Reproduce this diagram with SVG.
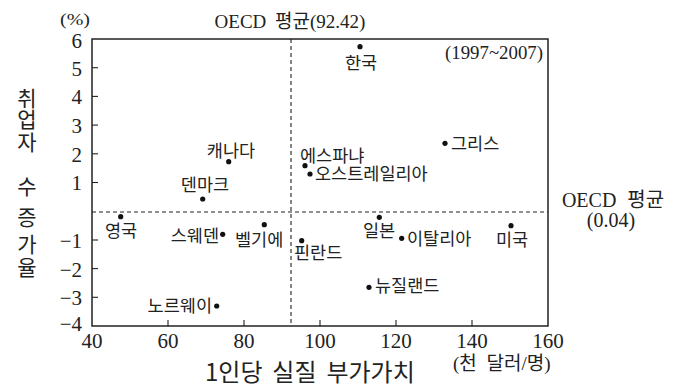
<svg xmlns="http://www.w3.org/2000/svg" width="674" height="387" viewBox="0 0 674 387">
<style>
.serif{font-family:"Liberation Serif","Noto Sans CJK KR",serif;fill:#222;}
.ko{font-family:"Noto Sans CJK KR","Noto Sans",sans-serif;fill:#222;}
.tick{font-size:21px;}
.lbl{font-size:17.5px;}
.dot{fill:#111;}
.dash{stroke:#222;stroke-width:1.1;stroke-dasharray:4 3;fill:none;}
.ax{stroke:#222;stroke-width:1.5;fill:none;}
.tk{stroke:#222;stroke-width:1.1;}
</style>
<rect width="674" height="387" fill="#fff"/>
<g id="axes">
<rect class="ax" x="92" y="39" width="456" height="287"/>
<g class="tk">
<line x1="92" y1="67.7" x2="98" y2="67.7"/>
<line x1="92" y1="96.4" x2="98" y2="96.4"/>
<line x1="92" y1="125.1" x2="98" y2="125.1"/>
<line x1="92" y1="153.8" x2="98" y2="153.8"/>
<line x1="92" y1="182.5" x2="98" y2="182.5"/>
<line x1="92" y1="240" x2="98" y2="240"/>
<line x1="92" y1="268.6" x2="98" y2="268.6"/>
<line x1="92" y1="297.3" x2="98" y2="297.3"/>
<line x1="168" y1="326" x2="168" y2="320"/>
<line x1="244" y1="326" x2="244" y2="320"/>
<line x1="320" y1="326" x2="320" y2="320"/>
<line x1="396" y1="326" x2="396" y2="320"/>
<line x1="472" y1="326" x2="472" y2="320"/>
</g>
<g class="serif tick" text-anchor="end">
<text x="82" y="48">6</text>
<text x="82" y="76">5</text>
<text x="82" y="104">4</text>
<text x="82" y="133">3</text>
<text x="82" y="162">2</text>
<text x="82" y="190">1</text>
<text x="82" y="248">−1</text>
<text x="82" y="277">−2</text>
<text x="82" y="305">−3</text>
<text x="82" y="331">−4</text>
</g>
<g class="serif tick" text-anchor="middle">
<text x="92" y="348">40</text>
<text x="168" y="348">60</text>
<text x="244" y="348">80</text>
<text x="320" y="348">100</text>
<text x="396" y="348">120</text>
<text x="472" y="348">140</text>
<text x="548" y="348">160</text>
</g>
<text class="serif" x="60" y="25" font-size="16" textLength="30" lengthAdjust="spacingAndGlyphs">(%)</text>
<text class="serif" x="445" y="59" font-size="18" textLength="98" lengthAdjust="spacingAndGlyphs">(1997~2007)</text>
<text class="serif" x="453" y="370" font-size="19" word-spacing="5">(천 달러/명)</text>
<text class="ko" x="205" y="381" font-size="24" word-spacing="4.5">1인당 실질 부가가치</text>
<text class="ko" font-size="21" x="27" writing-mode="vertical-rl"><tspan y="88">취</tspan><tspan y="109">업</tspan><tspan y="132">자</tspan><tspan y="176">수</tspan><tspan y="207">증</tspan><tspan y="234">가</tspan><tspan y="257">율</tspan></text>
</g>
<g id="connectors">
<line class="dash" x1="291" y1="39" x2="291" y2="326"/>
<line class="dash" x1="92" y1="212" x2="548" y2="212"/>
<text class="serif" x="290" y="28" font-size="19" word-spacing="4" text-anchor="middle">OECD 평균(92.42)</text>
<text class="serif" font-size="20" text-anchor="middle"><tspan x="613" y="207" word-spacing="6">OECD 평균</tspan><tspan x="611" y="227">(0.04)</tspan></text>
</g>
<g id="korea"><circle class="dot" cx="360" cy="46.7" r="2.6"/><text class="ko lbl" x="361" y="69" text-anchor="middle">한국</text></g>
<g id="greece"><circle class="dot" cx="445" cy="143.3" r="2.6"/><text class="ko lbl" x="451" y="150">그리스</text></g>
<g id="spain"><circle class="dot" cx="305" cy="165.7" r="2.6"/><text class="ko lbl" x="300" y="161.5">에스파냐</text></g>
<g id="australia"><circle class="dot" cx="310" cy="174" r="2.6"/><text class="ko lbl" x="315" y="180">오스트레일리아</text></g>
<g id="canada"><circle class="dot" cx="228.7" cy="161.7" r="2.6"/><text class="ko lbl" x="231" y="157" text-anchor="middle">캐나다</text></g>
<g id="denmark"><circle class="dot" cx="202.7" cy="199" r="2.6"/><text class="ko lbl" x="205" y="191" text-anchor="middle">덴마크</text></g>
<g id="uk"><circle class="dot" cx="120.7" cy="216.7" r="2.6"/><text class="ko lbl" x="121" y="237" text-anchor="middle">영국</text></g>
<g id="sweden"><circle class="dot" cx="222.7" cy="234.3" r="2.6"/><text class="ko lbl" x="219" y="242" text-anchor="end">스웨덴</text></g>
<g id="belgium"><circle class="dot" cx="264.3" cy="224.7" r="2.6"/><text class="ko lbl" x="235" y="246">벨기에</text></g>
<g id="finland"><circle class="dot" cx="301.7" cy="240.7" r="2.6"/><text class="ko lbl" x="294" y="259">핀란드</text></g>
<g id="norway"><circle class="dot" cx="216.7" cy="306" r="2.6"/><text class="ko lbl" x="212" y="312" text-anchor="end">노르웨이</text></g>
<g id="japan"><circle class="dot" cx="379.3" cy="217.3" r="2.6"/><text class="ko lbl" x="379" y="237" text-anchor="middle">일본</text></g>
<g id="italy"><circle class="dot" cx="401.7" cy="238.3" r="2.6"/><text class="ko lbl" x="407" y="245">이탈리아</text></g>
<g id="usa"><circle class="dot" cx="511" cy="225.7" r="2.6"/><text class="ko lbl" x="512" y="246" text-anchor="middle">미국</text></g>
<g id="newzealand"><circle class="dot" cx="369" cy="287.3" r="2.6"/><text class="ko lbl" x="375" y="292">뉴질랜드</text></g>
</svg>
